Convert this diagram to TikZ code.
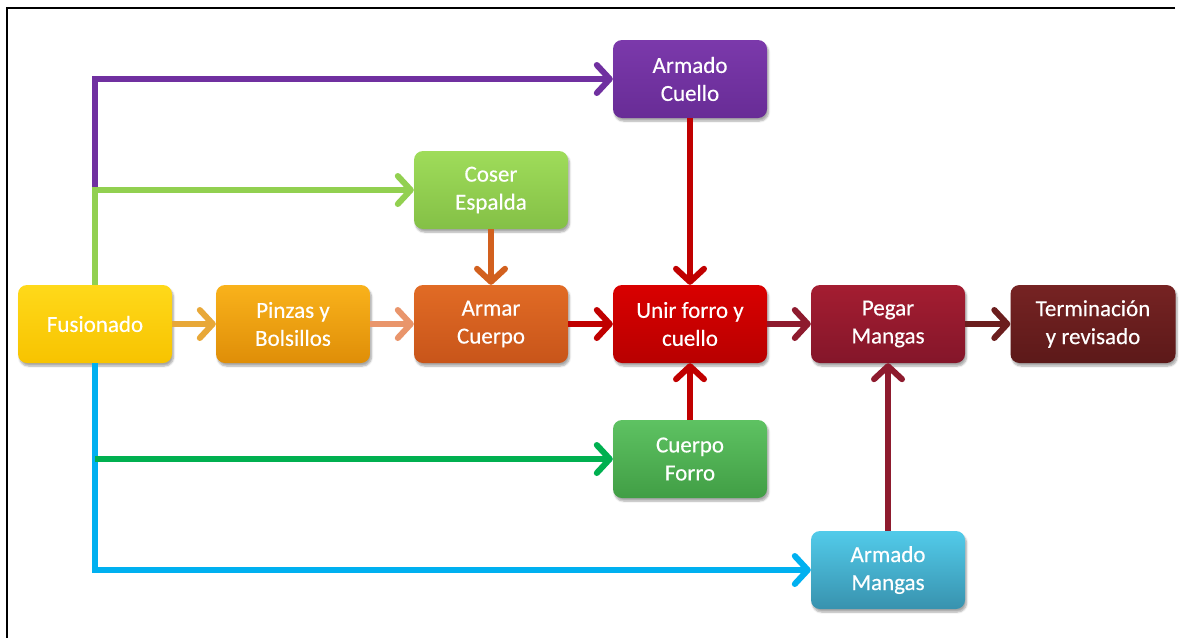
\documentclass[tikz,border=0pt]{standalone}
\usepackage{fontspec}
\setmainfont{Carlito}[FakeBold=0.35]
\usetikzlibrary{arrows.meta,shadows.blur}

% box fills (top / bottom of the vertical gradient)
\definecolor{fusT}{HTML}{FFD91A}\definecolor{fusB}{HTML}{F7C300}
\definecolor{pinT}{HTML}{F9B21B}\definecolor{pinB}{HTML}{DF8E08}
\definecolor{armT}{HTML}{E16B25}\definecolor{armB}{HTML}{C8551A}
\definecolor{uniT}{HTML}{D90000}\definecolor{uniB}{HTML}{B80000}
\definecolor{pegT}{HTML}{A41D31}\definecolor{pegB}{HTML}{84162A}
\definecolor{terT}{HTML}{762323}\definecolor{terB}{HTML}{5C1919}
\definecolor{cueT}{HTML}{7B39AB}\definecolor{cueB}{HTML}{682C96}
\definecolor{cosT}{HTML}{9FDC5A}\definecolor{cosB}{HTML}{84C046}
\definecolor{forT}{HTML}{5EC262}\definecolor{forB}{HTML}{419E45}
\definecolor{manT}{HTML}{52CBEA}\definecolor{manB}{HTML}{3892AE}
% connector colours
\definecolor{cPurple}{HTML}{7030A0}
\definecolor{cLime}{HTML}{92D050}
\definecolor{cGreen}{HTML}{00B050}
\definecolor{cBlue}{HTML}{00B0F0}
\definecolor{cGold}{HTML}{E8A838}
\definecolor{cSalmon}{HTML}{E9956B}
\definecolor{cOrange}{HTML}{D2601E}
\definecolor{cRed}{HTML}{C00000}
\definecolor{cWine}{HTML}{8E1B2E}
\definecolor{cMaroon}{HTML}{6B1E1E}

\tikzset{
  stepbox/.style n args={2}{
    rectangle, rounded corners=9pt, minimum width=154pt, minimum height=78pt,
    inner sep=2pt, align=center, text=white,
    font=\fontsize{23}{28}\selectfont,
    top color=#1, bottom color=#2, draw=none,
    blur shadow={shadow xshift=1.5pt, shadow yshift=-3pt, shadow blur steps=6, shadow opacity=35}
  },
  flow/.style={line width=6pt, color=#1,
    -{Straight Barb[length=13pt,width=28pt,round]}},
  frame/.style={line width=2pt, black}
}

\begin{document}
\begin{tikzpicture}[x=1pt,y=-1pt]
\useasboundingbox (0,0) rectangle (1180,637);

% outer frame (top and left edges)
\coordinate (fTL) at (6.5,7.5);
\coordinate (fTR) at (1175,7.5);
\coordinate (fBL) at (6.5,640);
\draw[frame] (fTR) -- (fTL) -- (fBL);

% process steps
\node[stepbox={fusT}{fusB}] (fus) at (95,324) {Fusionado};
\node[stepbox={pinT}{pinB}] (pin) at (293,324) {Pinzas y\\Bolsillos};
\node[stepbox={armT}{armB}] (arm) at (491,324) {Armar\\Cuerpo};
\node[stepbox={uniT}{uniB}] (uni) at (690,324) {Unir forro y\\cuello};
\node[stepbox={pegT}{pegB}] (peg) at (888,324) {Pegar\\Mangas};
\node[stepbox={terT}{terB}, minimum width=165pt] (ter) at (1093,324) {Terminación\\y revisado};
\node[stepbox={cueT}{cueB}] (cue) at (690,79) {Armado\\Cuello};
\node[stepbox={cosT}{cosB}] (cos) at (491,190) {Coser\\Espalda};
\node[stepbox={forT}{forB}] (for) at (690,459) {Cuerpo\\Forro};
\node[stepbox={manT}{manB}] (man) at (888,570) {Armado\\Mangas};

% branch points on the trunks leaving Fusionado
\coordinate (upSplit) at (fus.north |- cos.west);
\coordinate (downSplit) at (fus.south |- for.west);

% branches from Fusionado
\draw[flow=cPurple] (upSplit) |- (cue.west);
\draw[flow=cLime] (fus.north) |- (cos.west);
\draw[flow=cBlue] (fus.south) |- (man.west);
\draw[flow=cGreen] (downSplit) -- (for.west);

% main line
\draw[flow=cGold] (fus.east) -- (pin.west);
\draw[flow=cSalmon] (pin.east) -- (arm.west);
\draw[flow=cOrange] (cos.south) -- (arm.north);
\draw[flow=cRed] (arm.east) -- (uni.west);
\draw[flow=cRed] (cue.south) -- (uni.north);
\draw[flow=cRed] (for.north) -- (uni.south);
\draw[flow=cWine] (uni.east) -- (peg.west);
\draw[flow=cWine] (man.north) -- (peg.south);
\draw[flow=cMaroon] (peg.east) -- (ter.west);
\end{tikzpicture}
\end{document}
